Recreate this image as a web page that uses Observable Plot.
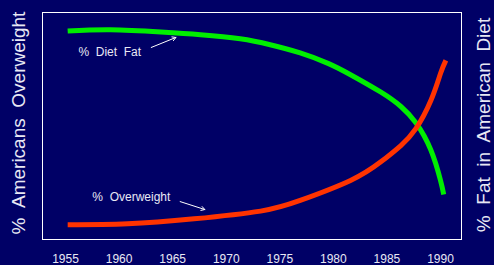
<!DOCTYPE html>
<html>
<head>
<meta charset="utf-8">
<script src="https://cdn.jsdelivr.net/npm/d3@7"></script>
<script src="https://cdn.jsdelivr.net/npm/@observablehq/plot@0.6"></script>
<style>
  html, body { margin: 0; padding: 0; background: #000066; }
  #chart svg { display: block; }
</style>
</head>
<body>
<div id="chart"></div>
<script>
// Diet fat (green) series: year, relative value
const fatYears  = [1955.2, 1959.2, 1963.9, 1967.6, 1971.3, 1974.1, 1976.9, 1979.5, 1981.6, 1984.4, 1986.3, 1987.7, 1989.1, 1990, 1990.3];
const fatValues = [91.8, 92.4, 91.4, 90.2, 88.4, 85.8, 82.2, 77.6, 72.6, 65.0, 58.6, 51.4, 39.4, 26.0, 19.8];
// Overweight (red) series
const owYears  = [1955.2, 1960.8, 1967.0, 1973.2, 1976.9, 1981.6, 1984.4, 1986.3, 1987.7, 1989.1, 1990, 1990.5];
const owValues = [6.5, 6.9, 9.1, 12.5, 17.2, 26.0, 34.1, 41.4, 48.8, 61.2, 73.1, 78.9];
const tickYears = [1955, 1960, 1965, 1970, 1975, 1980, 1985, 1990];
const leftLabel = "%  Americans  Overweight";
const rightLabel = "%  Fat  in  American  Diet";
const notes = [
  {text: "%  Diet  Fat", x: 1956.2, y: 82.4, x1: 1963.0, y1: 84.6, x2: 1965.3, y2: 89.0},
  {text: "%  Overweight", x: 1957.5, y: 18.5, x1: 1965.7, y1: 16.7, x2: 1968.0, y2: 13.2}
];

const fat = fatYears.map((x, i) => ({x, y: fatValues[i]}));
const ow = owYears.map((x, i) => ({x, y: owValues[i]}));
const textColor = "#e8e8f4";

const chart = Plot.plot({
  width: 494,
  height: 265,
  marginLeft: 42,
  marginRight: 33,
  marginTop: 12,
  marginBottom: 26,
  style: {background: "#000066", color: textColor, fontFamily: "Liberation Sans, Arial, sans-serif"},
  x: {domain: [1952.85, 1991.96], ticks: tickYears, tickFormat: d => String(d), tickSize: 0, tickPadding: 15, label: null},
  y: {domain: [0, 100], axis: null},
  marks: [
    Plot.frame({stroke: "white", strokeWidth: 1}),
    Plot.axisX({ticks: tickYears, tickFormat: d => String(d), tickSize: 0, tickPadding: 15, fontSize: 12, fill: textColor, label: null}),
    Plot.line(fat, {x: "x", y: "y", stroke: "#00ee00", strokeWidth: 5, curve: "natural", strokeLinecap: "butt"}),
    Plot.line(ow, {x: "x", y: "y", stroke: "#ff3300", strokeWidth: 5, curve: "natural", strokeLinecap: "butt"}),
    Plot.text(notes, {x: "x", y: "y", text: "text", textAnchor: "start", fill: textColor, fontSize: 12, style: "white-space: pre"}),
    Plot.arrow(notes, {x1: "x1", y1: "y1", x2: "x2", y2: "y2", stroke: "white", strokeWidth: 1, headLength: 6}),
    Plot.text([leftLabel], {frameAnchor: "left", textAnchor: "middle", dx: -24, dy: -3, rotate: -90, fill: textColor, fontSize: 19, style: "white-space: pre"}),
    Plot.text([rightLabel], {frameAnchor: "right", textAnchor: "middle", dx: 22, dy: -1, rotate: -90, fill: textColor, fontSize: 19, style: "white-space: pre"})
  ]
});
document.getElementById("chart").appendChild(chart);
</script>
</body>
</html>
